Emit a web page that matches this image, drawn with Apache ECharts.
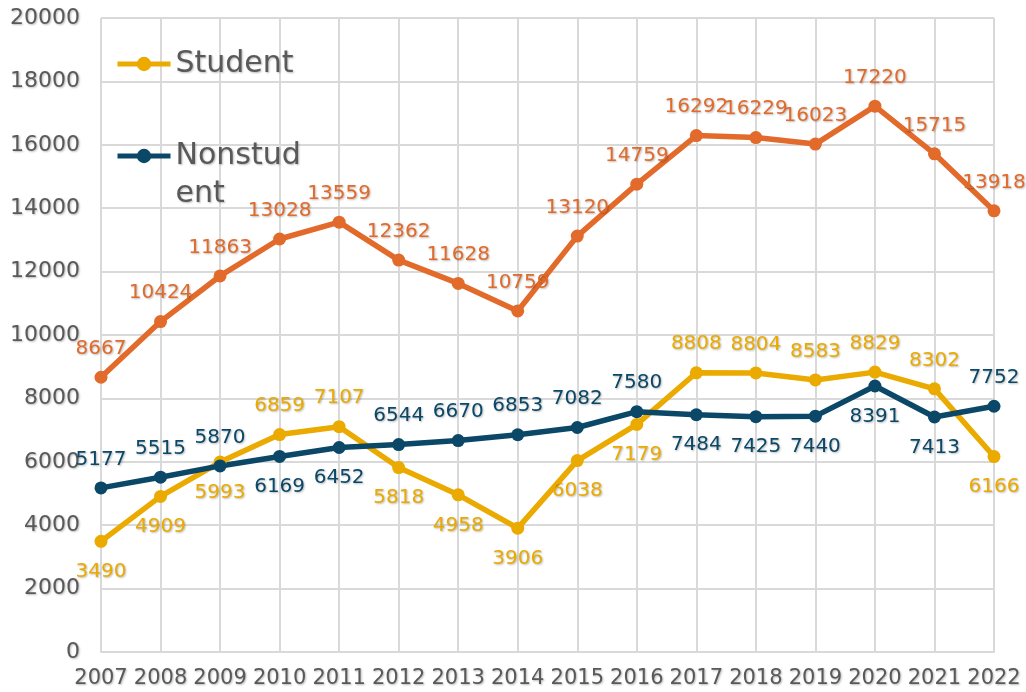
<!DOCTYPE html>
<html>
<head>
<meta charset="utf-8">
<script src="https://cdn.jsdelivr.net/npm/echarts@6/dist/echarts.min.js"></script>
<style>
  html, body { margin: 0; padding: 0; background: #fff; }
  #main { width: 1026px; height: 692px; }
</style>
</head>
<body>
<div id="main"></div>
<script>
  var years = ['2007', '2008', '2009', '2010', '2011', '2012', '2013', '2014',
    '2015', '2016', '2017', '2018', '2019', '2020', '2021', '2022'];
  var total = [8667, 10424, 11863, 13028, 13559, 12362, 11628, 10759,
    13120, 14759, 16292, 16229, 16023, 17220, 15715, 13918];
  var student = [3490, 4909, 5993, 6859, 7107, 5818, 4958, 3906,
    6038, 7179, 8808, 8804, 8583, 8829, 8302, 6166];
  var nonstudent = [5177, 5515, 5870, 6169, 6452, 6544, 6670, 6853,
    7082, 7580, 7484, 7425, 7440, 8391, 7413, 7752];
  var yTicks = [0, 2000, 4000, 6000, 8000, 10000, 12000, 14000, 16000, 18000, 20000];

  // which student labels sit above the point (nonstudent is the other way round)
  var studentAbove = [0, 0, 0, 1, 1, 0, 0, 0, 0, 0, 1, 1, 1, 1, 1, 0];

  var FONT = 'DejaVu Sans';
  var shadow = {
    textShadowColor: 'rgba(0,0,0,0.28)',
    textShadowBlur: 2,
    textShadowOffsetX: 1,
    textShadowOffsetY: 1
  };
  var colors = {total: '#E26A2B', student: '#EBAA00', nonstudent: '#0B4868'};

  function withLabels(values, aboveFlags, invert) {
    return values.map(function (v, i) {
      var up = aboveFlags ? (invert ? !aboveFlags[i] : !!aboveFlags[i]) : true;
      return {
        value: v,
        label: {position: up ? 'top' : 'bottom', distance: up ? 12 : 14}
      };
    });
  }

  function lineSeries(name, values, color, aboveFlags, invert) {
    return {
      name: name,
      type: 'line',
      data: withLabels(values, aboveFlags, invert),
      symbol: 'circle',
      symbolSize: 13,
      lineStyle: {width: 5.5, color: color},
      itemStyle: {color: color},
      label: Object.assign({
        show: true,
        color: color,
        fontFamily: FONT,
        fontSize: 20
      }, shadow)
    };
  }

  var legendText = Object.assign({
    fontFamily: FONT, fontSize: 30, lineHeight: 38, color: '#595959'
  }, shadow);

  var myChart = echarts.init(document.getElementById('main'));
  var option = {
    backgroundColor: '#ffffff',
    animation: false,
    grid: {left: 101, right: 32, top: 18, bottom: 40},
    legend: [{
      data: ['Student'],
      left: 115,
      top: 45,
      padding: 0,
      itemWidth: 53,
      itemHeight: 18,
      lineStyle: {width: 5},
      textStyle: legendText
    }, {
      data: ['Nonstudent'],
      left: 115,
      top: 99,
      padding: 0,
      itemWidth: 53,
      itemHeight: 18,
      lineStyle: {width: 5},
      // blank first line keeps the marker level with "Nonstud"
      formatter: function () { return ' \nNonstud\nent'; },
      textStyle: legendText
    }],
    xAxis: {
      type: 'category',
      data: years,
      boundaryGap: false,
      axisLine: {lineStyle: {color: '#D9D9D9', width: 2}},
      axisTick: {show: false},
      splitLine: {show: true, lineStyle: {color: '#D9D9D9', width: 2}},
      axisLabel: Object.assign({
        color: '#595959', fontFamily: FONT, fontSize: 21, margin: 16, interval: 0
      }, shadow)
    },
    yAxis: {
      type: 'value',
      min: yTicks[0],
      max: yTicks[yTicks.length - 1],
      interval: yTicks[1] - yTicks[0],
      axisLine: {show: false},
      axisTick: {show: false},
      splitLine: {lineStyle: {color: '#D9D9D9', width: 2}},
      axisLabel: Object.assign({
        color: '#595959', fontFamily: FONT, fontSize: 22, margin: 21,
        formatter: function (v) { return String(v); }
      }, shadow)
    },
    series: [
      lineSeries('Total', total, colors.total, null, false),
      lineSeries('Student', student, colors.student, studentAbove, false),
      lineSeries('Nonstudent', nonstudent, colors.nonstudent, studentAbove, true)
    ]
  };
  myChart.setOption(option, true);
</script>
</body>
</html>
